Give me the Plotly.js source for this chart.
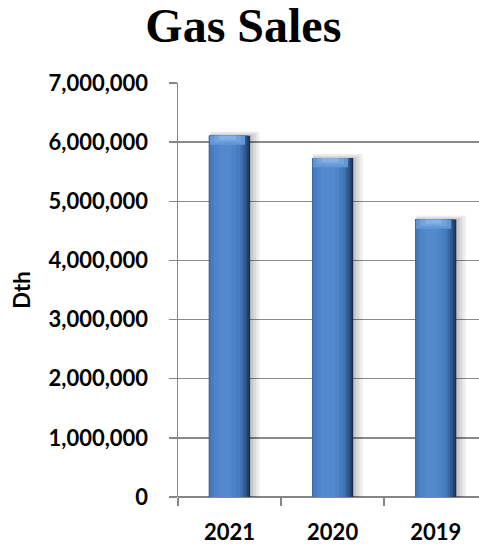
<!DOCTYPE html>
<html>
<head>
<meta charset="utf-8">
<script src="https://cdn.plot.ly/plotly-3.0.1.min.js"></script>
<style>html,body{margin:0;padding:0;background:#fff;}#chart{width:479px;height:544px;}</style>
</head>
<body>
<div id="chart"></div>
<script>
const years = ['2021', '2020', '2019'];
const gasSales = [6110000, 5730000, 4690000];
const yTickVals = [0, 1000000, 2000000, 3000000, 4000000, 5000000, 6000000, 7000000];
const yTickText = ['0', '1,000,000', '2,000,000', '3,000,000', '4,000,000', '5,000,000', '6,000,000', '7,000,000'];

const capFrac = 0.022;
const capBase = gasSales.map(v => v - 7000000 * capFrac);
const capHeight = gasSales.map(() => 7000000 * capFrac);

const layer = (w, color, extra) => Object.assign({
  type: 'bar', x: years, y: gasSales, width: w,
  marker: {color: color, line: {width: 0}},
  hoverinfo: 'skip', showlegend: false
}, extra || {});

const traces = [
  layer(0.48, 'rgba(0,0,0,0.07)', {offset: -0.19, y: gasSales.map(v => v + 70000)}),
  layer(0.45, 'rgba(0,0,0,0.08)', {offset: -0.19, y: gasSales.map(v => v + 40000)}),
  layer(0.42, 'rgba(0,0,0,0.08)', {offset: -0.19, y: gasSales.map(v => v + 15000)}),
  layer(0.40, '#1a2f4f'),
  layer(0.385, '#24446f', {offset: -0.20}),
  layer(0.365, '#2f5890', {offset: -0.20}),
  layer(0.34, '#3a68a7', {offset: -0.20}),
  layer(0.315, '#4273b4', {offset: -0.195}),
  layer(0.28, '#487cc0', {offset: -0.18}),
  layer(0.22, '#4d83c7', {offset: -0.155}),
  layer(0.13, '#528acd', {offset: -0.11}),
  layer(0.34, '#6396d6', {offset: -0.19, y: capHeight, base: capBase}),
  layer(0.26, '#72a3df', {offset: -0.15, y: capHeight.map(h => h * 0.7), base: capBase.map((b, i) => b + capHeight[i] * 0.3)}),
  layer(0.16, '#84b1e8', {offset: -0.10, y: capHeight.map(h => h * 0.45), base: capBase.map((b, i) => b + capHeight[i] * 0.55)})
];

const tickFont = {family: 'Lato, "Open Sans", sans-serif', size: 22, color: '#000', weight: 'bold'};

const layout = {
  width: 479, height: 544,
  margin: {l: 178, r: 0, t: 83, b: 47, pad: 0},
  paper_bgcolor: '#fff', plot_bgcolor: '#fff',
  barmode: 'overlay',
  title: {
    text: '<b>Gas Sales</b>',
    font: {family: '"Liberation Serif", "Times New Roman", serif', size: 48, color: '#000'},
    x: 0.508, xanchor: 'center', y: 0.984, yanchor: 'top'
  },
  xaxis: {
    type: 'category',
    range: [-0.5, 2.42],
    tickson: 'boundaries',
    ticks: 'outside', ticklen: 8, tickwidth: 1.5, tickcolor: '#868686',
    showline: false,
    showgrid: false,
    zeroline: false,
    tickfont: tickFont,
    ticklabelstandoff: 20,
    fixedrange: true
  },
  yaxis: {
    range: [0, 7000000],
    tickvals: yTickVals, ticktext: yTickText,
    ticks: 'outside', ticklen: 8, tickwidth: 1.5, tickcolor: '#868686',
    showline: true, linecolor: '#868686', linewidth: 1.5,
    showgrid: true, gridcolor: '#8a8a8a', gridwidth: 1.5,
    zeroline: true, zerolinecolor: '#868686', zerolinewidth: 1.5,
    tickfont: tickFont,
    ticklabelstandoff: 16,
    title: {text: 'Dth', font: {family: 'Lato, "Open Sans", sans-serif', size: 22, color: '#000', weight: 'bold'}, standoff: 12},
    fixedrange: true
  }
};

Plotly.newPlot('chart', traces, layout, {displayModeBar: false, staticPlot: true});
</script>
</body>
</html>
